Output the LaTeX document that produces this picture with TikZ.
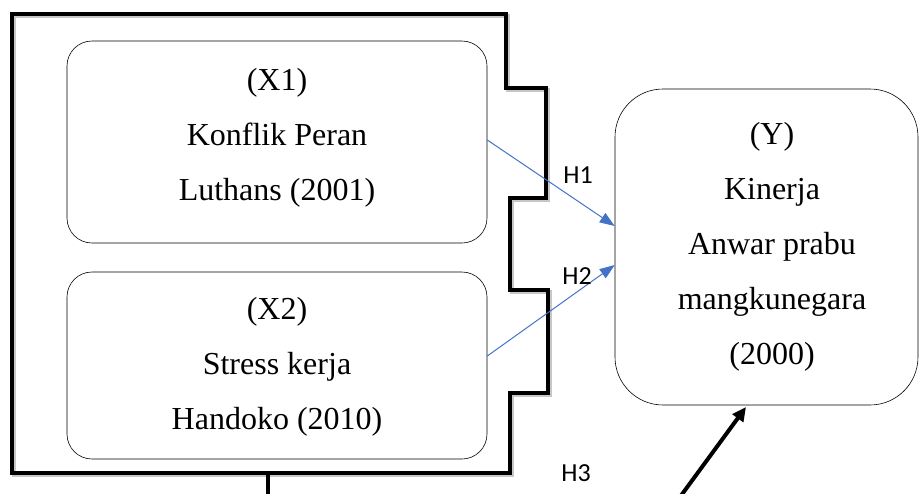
\documentclass[tikz,border=0pt]{standalone}
\usepackage{fontspec}
\setmainfont{Liberation Serif}
\newfontfamily\hfont{Carlito}
\usetikzlibrary{arrows.meta}
\definecolor{arrowblue}{HTML}{4472C4}
\begin{document}
\begin{tikzpicture}[x=1pt,y=-1pt,
  box/.style={draw, line width=0.6pt, inner sep=0pt},
  txt/.style={align=center, inner sep=0pt, font=\fontsize{32}{55}\selectfont},
  hlab/.style={inner sep=0pt, font=\hfont\fontsize{26}{30}\selectfont},
  bluearrow/.style={draw=arrowblue, line width=1pt, -{Triangle[length=15pt,width=11pt]}},
  thick bracket/.style={line width=4.5pt, line join=miter},
  blackarrow/.style={line width=4pt, -{Triangle[length=14pt,width=13pt]}}]
\useasboundingbox (0,0) rectangle (921,493);
% boxes
\node[box, rounded corners=25pt, minimum width=420pt, minimum height=202pt] (x1box) at (277,142) {};
\node[box, rounded corners=25pt, minimum width=420pt, minimum height=187pt] (x2box) at (277,365.5) {};
\node[box, rounded corners=48pt, minimum width=303pt, minimum height=316pt] (ybox) at (766.5,247) {};
\node[txt] (x1text) at (277,138) {(X1)\\Konflik Peran\\Luthans (2001)};
\node[txt] (x2text) at (277,367) {(X2)\\Stress kerja\\Handoko (2010)};
\node[txt] (ytext) at (772,247) {(Y)\\Kinerja\\Anwar prabu\\mangkunegara\\(2000)};
% bracket
\coordinate (stemtop) at (268,473);
\coordinate (stembot) at (268,500);
\begin{scope}[shift={(2,2)}]
\draw[thick bracket, black!22] (12,14) -- (506,14) -- (506,88) -- (546,88) -- (546,198) -- (510,198) -- (510,290) -- (548,290) -- (548,393) -- (510,393) -- (510,473) -- (12,473) -- cycle;
\end{scope}
\draw[thick bracket] (12,14) -- (506,14) -- (506,88) -- (546,88) -- (546,198) -- (510,198) -- (510,290) -- (548,290) -- (548,393) -- (510,393) -- (510,473) -- (12,473) -- cycle;
\draw[line width=4.5pt] (stemtop) -- (stembot);
% arrows
\draw[bluearrow] ([yshift=2pt]x1box.east) -- ([yshift=21pt]ybox.west);
\draw[bluearrow] ([yshift=9.5pt]x2box.east) -- ([yshift=-18pt]ybox.west);
\coordinate (h3start) at (680,497);
\coordinate (h3end) at (746,407);
\draw[blackarrow] (h3start) -- (h3end);
% labels
\node[hlab] (h1) at (578,175) {H1};
\node[hlab] (h2) at (577,276) {H2};
\node[hlab] (h3) at (576,473) {H3};
\end{tikzpicture}
\end{document}
